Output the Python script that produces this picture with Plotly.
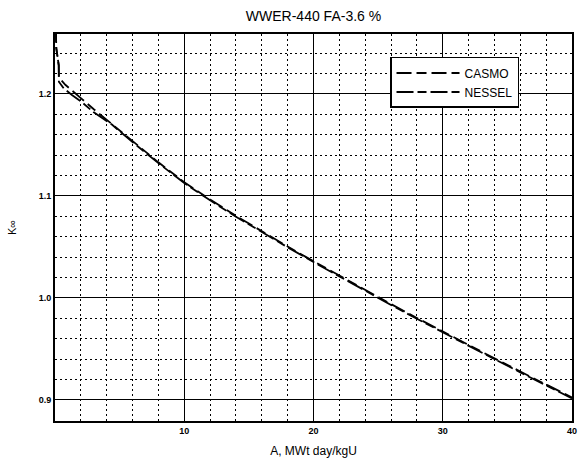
import plotly.graph_objects as go

# ---- data ----
burnup_casmo = [0, 0.03, 0.1, 0.2, 0.29, 0.3, 0.8, 2.0, 3.0, 4.5, 6, 8, 10, 12, 14, 16, 18,
                20, 22, 24, 26, 28, 30, 32, 34, 36, 38, 40]
k_casmo = [1.300, 1.262, 1.245, 1.236, 1.228, 1.216, 1.209, 1.196, 1.185, 1.1695, 1.1535, 1.133,
           1.1135, 1.0965, 1.0805, 1.0653, 1.0505, 1.036, 1.0218, 1.0078, 0.994, 0.9804, 0.967,
           0.9538, 0.9408, 0.9279, 0.9151, 0.9024]

burnup_nessel = [0, 0.03, 0.1, 0.2, 0.29, 0.3, 0.67, 1.31, 2.08, 3.0, 4.4, 6, 8, 10, 12, 14,
                 16, 18, 20, 22, 24, 26, 28, 30, 32, 34, 36, 38, 40]
k_nessel = [1.300, 1.262, 1.245, 1.236, 1.228, 1.212, 1.2056, 1.199, 1.192, 1.182, 1.170, 1.1528,
            1.1322, 1.1127, 1.0957, 1.0797, 1.0645, 1.0497, 1.0352, 1.021, 1.007, 0.9932, 0.9796,
            0.9662, 0.953, 0.94, 0.9271, 0.9143, 0.9016]

x_major_ticks = [10, 20, 30, 40]
x_tick_labels = ["10", "20", "30", "40"]
y_major_ticks = [0.9, 1.0, 1.1, 1.2]
y_tick_labels = ["0.9", "1.0", "1.1", "1.2"]

series_names = ["CASMO", "NESSEL"]

FONT = "Liberation Sans, Arial, sans-serif"

fig = go.Figure()
fig.add_trace(go.Scatter(x=burnup_casmo, y=k_casmo, mode="lines", name=series_names[0],
                         line=dict(color="black", width=1.8, dash="15px,5px,10px,5px")))
fig.add_trace(go.Scatter(x=burnup_nessel, y=k_nessel, mode="lines", name=series_names[1],
                         line=dict(color="black", width=1.8, dash="17px,4px,9px,4px")))

fig.update_layout(
    width=578, height=459,
    margin=dict(l=55, r=1, t=34, b=38),
    paper_bgcolor="white", plot_bgcolor="white",
    font=dict(family=FONT, color="black"),
    title=dict(text="WWER-440 FA-3.6 %", font=dict(size=14, family=FONT, color="black"),
               x=0.5, xref="paper", xanchor="center",
               y=1 - 16 / 459, yref="container", yanchor="middle"),
    showlegend=True,
    legend=dict(x=0.648, y=0.9406, xanchor="left", yanchor="top",
                bgcolor="white", bordercolor="black", borderwidth=1.5,
                font=dict(size=12, family=FONT, color="black"),
                itemwidth=63, tracegroupgap=0),
)

fig.update_xaxes(
    range=[0, 40], tickmode="array", tickvals=x_major_ticks, ticktext=x_tick_labels,
    showgrid=True, gridcolor="black", gridwidth=1, zeroline=False,
    showline=True, linecolor="black", linewidth=1.8, mirror=True,
    ticks="", tickfont=dict(size=9, family=FONT, color="black", weight="bold"),
    ticklabeloverflow="allow",
    minor=dict(tickmode="linear", tick0=0, dtick=2, showgrid=True, gridcolor="black",
               gridwidth=1, griddash="2px,3px"),
    title=dict(text="A, MWt day/kgU", font=dict(size=12, family=FONT, color="black"), standoff=12),
)
fig.update_yaxes(
    range=[0.8794, 1.2588], tickmode="array", tickvals=y_major_ticks, ticktext=y_tick_labels,
    showgrid=True, gridcolor="black", gridwidth=1, zeroline=False,
    showline=True, linecolor="black", linewidth=1.8, mirror=True,
    ticks="", tickfont=dict(size=9, family=FONT, color="black", weight="bold"),
    minor=dict(tickmode="linear", tick0=0.9, dtick=0.02, showgrid=True, gridcolor="black",
               gridwidth=1, griddash="2px,3px"),
    title=dict(text="K∞", font=dict(size=11, family=FONT, color="black"), standoff=20),
)

fig.write_html("out.html")
